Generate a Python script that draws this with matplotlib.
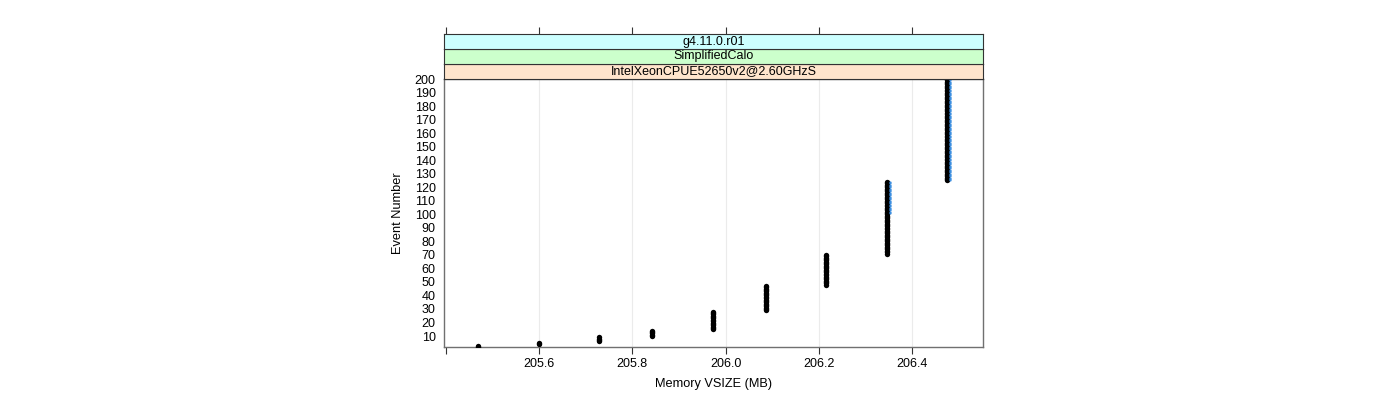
import numpy as np
import matplotlib
matplotlib.use("Agg")
import matplotlib.pyplot as plt

plt.rcParams['font.family'] = ['Liberation Sans', 'DejaVu Sans']

# memory levels (MB) and the event range sitting at each level
vsize = [205.469, 205.600, 205.729, 205.842, 205.973, 206.086, 206.216, 206.346, 206.475]
first_event = [1, 4, 6, 10, 15, 29, 48, 71, 125]
last_event = [3, 5, 9, 14, 28, 47, 70, 124, 200]

# second (blue) series, only visible on the last two levels
blue_vsize = [206.346, 206.475]
blue_first = [101, 125]
blue_last = [124, 200]

strips = ['g4.11.0.r01', 'SimplifiedCalo', 'IntelXeonCPUE52650v2@2.60GHzS']
strip_cols = ['#ccffff', '#ccffcc', '#ffe5cc']

xticks = [205.4, 205.6, 205.8, 206.0, 206.2, 206.4]
xticklabels = ['', '205.6', '205.8', '206.0', '206.2', '206.4']
yticks = list(range(10, 201, 10))

fig = plt.figure(figsize=(14, 4), dpi=100)
W, H = 1400.0, 400.0
left, right, top, bottom = 444, 983, 79, 347
ax = fig.add_axes([left / W, 1 - bottom / H, (right - left) / W, (bottom - top) / H])

xs, ys = [], []
for v, a, b in zip(vsize, first_event, last_event):
    ev = np.arange(a, b + 1)
    xs.append(np.full(len(ev), v))
    ys.append(ev)
ax.scatter(np.concatenate(xs), np.concatenate(ys), s=15, c='black', linewidths=0, zorder=3)

bx, by = [], []
for v, a, b in zip(blue_vsize, blue_first, blue_last):
    ev = np.arange(a, b + 1)
    bx.append(np.full(len(ev), v + 0.0062))
    by.append(ev)
ax.scatter(np.concatenate(bx), np.concatenate(by), s=2.5, c='#3d8fe0', linewidths=0, zorder=4)

ax.set_xlim(205.396, 206.552)
ax.set_ylim(1.9, 200)
ax.set_xticks(xticks)
ax.set_xticklabels(xticklabels, fontsize=9)
ax.set_yticks(yticks)
ax.set_yticklabels([str(t) for t in yticks], fontsize=9)
ax.tick_params(axis='x', direction='out', length=5, width=0.8, color='#333333', pad=3)
ax.tick_params(axis='y', length=0, pad=6)
for x in xticks[1:]:
    ax.axvline(x, color='#ebebeb', lw=0.8, zorder=0)
for s in ax.spines.values():
    s.set_color('#707070')
    s.set_linewidth(1)
ax.set_xlabel('Memory VSIZE (MB)', fontsize=9.2, labelpad=6)
ax.set_ylabel('Event Number', fontsize=9.2, labelpad=8)

# stacked strips above the panel
sh = 15
for i, (txt, col) in enumerate(zip(strips[::-1], strip_cols[::-1])):
    y0 = top - sh * (i + 1)
    sax = fig.add_axes([left / W, 1 - (y0 + sh) / H, (right - left) / W, sh / H], sharex=ax)
    sax.set_facecolor(col)
    sax.set_yticks([])
    sax.text(0.5, 0.5, txt, transform=sax.transAxes, ha='center', va='center', fontsize=9)
    for s in sax.spines.values():
        s.set_color('#333333')
        s.set_linewidth(0.8)
    if i == len(strips) - 1:
        sax.tick_params(axis='x', which='both', bottom=False, labelbottom=False,
                        top=True, labeltop=False, direction='out', length=5, width=0.8, color='#333333')
    else:
        sax.tick_params(axis='x', which='both', bottom=False, labelbottom=False, top=False)

fig.savefig('out.png', dpi=100)
